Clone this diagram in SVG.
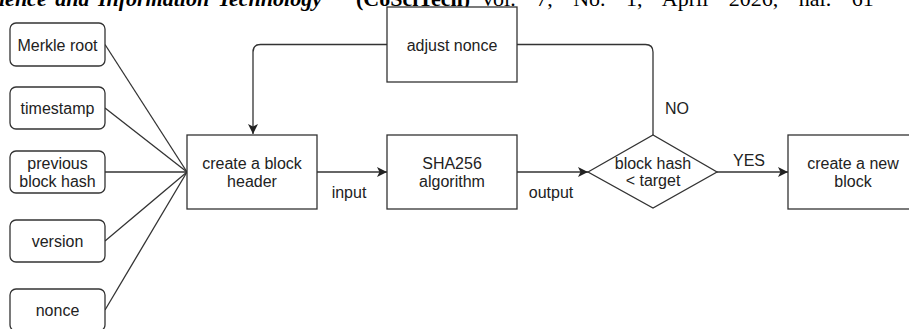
<svg xmlns="http://www.w3.org/2000/svg" width="909" height="329" viewBox="0 0 909 329">
<style>
.b{fill:#fff;stroke:#333;stroke-width:1.3}
.l{fill:none;stroke:#333;stroke-width:1.3}
.t{font-family:"Liberation Sans",Arial,sans-serif;font-size:16px;fill:#222;text-anchor:middle}
.h{font-family:"Liberation Serif","Times New Roman",serif;font-size:22px;fill:#000}
</style>
<defs>
<marker id="ar" viewBox="0 0 10 10" refX="10" refY="5" markerWidth="10" markerHeight="10" markerUnits="userSpaceOnUse" orient="auto">
<path d="M0,0 L10,5 L0,10 L2.5,5 Z" fill="#222"/>
</marker>
</defs>
<rect width="909" height="329" fill="#fff"/>
<g id="page-header">
<text class="h" x="-1" y="6" font-weight="bold" font-style="italic" word-spacing="3">ience and Information Technology</text>
<text class="h" x="356" y="6" font-weight="bold">(CoSciTech)</text>
<text class="h" x="480" y="6" word-spacing="15">Vol. 7, No. 1, April 2026, hal. 61</text>
</g>
<g id="connectors">
<line class="l" x1="105" y1="44.5" x2="187" y2="172"/>
<line class="l" x1="105" y1="108" x2="187" y2="172"/>
<line class="l" x1="105" y1="172" x2="187" y2="172"/>
<line class="l" x1="105" y1="241" x2="187" y2="172"/>
<line class="l" x1="105" y1="310" x2="187" y2="172"/>
<line class="l" x1="317" y1="172" x2="387" y2="172" marker-end="url(#ar)"/>
<line class="l" x1="517" y1="172" x2="588" y2="172" marker-end="url(#ar)"/>
<line class="l" x1="717" y1="172" x2="788" y2="172" marker-end="url(#ar)"/>
<path class="l" d="M653,135 V52 Q653,44.5 645.5,44.5 H517"/>
<path class="l" d="M387,44.5 H260.5 Q253,44.5 253,52 V134" marker-end="url(#ar)"/>
<text class="t" x="349" y="198">input</text>
<text class="t" x="551" y="198">output</text>
<text class="t" x="749" y="166">YES</text>
<text class="t" x="677" y="114">NO</text>
</g>
<g id="merkle"><rect class="b" x="10" y="23" width="95" height="43" rx="6"/><text class="t" x="57.5" y="50.5">Merkle root</text></g>
<g id="timestamp"><rect class="b" x="10" y="87" width="95" height="42" rx="6"/><text class="t" x="57.5" y="114">timestamp</text></g>
<g id="prevhash"><rect class="b" x="10" y="151" width="95" height="42" rx="6"/><text class="t" x="57.5" y="169">previous</text><text class="t" x="57.5" y="186.5">block hash</text></g>
<g id="version"><rect class="b" x="10" y="220" width="95" height="42" rx="6"/><text class="t" x="57.5" y="246.5">version</text></g>
<g id="nonce"><rect class="b" x="10" y="289" width="95" height="42" rx="6"/><text class="t" x="57.5" y="316">nonce</text></g>
<g id="header"><rect class="b" x="187" y="135" width="130" height="74"/><text class="t" x="252" y="169">create a block</text><text class="t" x="252" y="187">header</text></g>
<g id="adjust"><rect class="b" x="387" y="7" width="130" height="75"/><text class="t" x="452" y="51">adjust nonce</text></g>
<g id="sha"><rect class="b" x="387" y="135" width="130" height="74"/><text class="t" x="452" y="169">SHA256</text><text class="t" x="452" y="187">algorithm</text></g>
<g id="decision"><polygon class="b" points="588,172 653,135 717,172 653,208"/><text class="t" x="653" y="169">block hash</text><text class="t" x="653" y="186">&lt; target</text></g>
<g id="newblock"><rect class="b" x="788" y="135" width="130" height="74"/><text class="t" x="853" y="169">create a new</text><text class="t" x="853" y="187">block</text></g>
</svg>
